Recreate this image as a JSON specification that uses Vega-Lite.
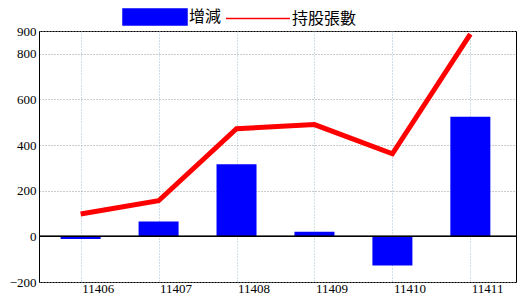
{
  "$schema": "https://vega.github.io/schema/vega-lite/v6.json",
  "width": 477,
  "height": 251,
  "autosize": "none",
  "padding": {"left": 39, "top": 31, "right": 4, "bottom": 18},
  "background": "white",
  "config": {
    "view": {"stroke": "black", "strokeWidth": 1},
    "axis": {"labelFont": "Liberation Sans Narrow", "labelFontSize": 13, "labelColor": "black", "domainColor": "black", "ticks": false}
  },
  "data": {
    "values": [
      {"month": "11406", "change": -12, "holdings": 98},
      {"month": "11407", "change": 65, "holdings": 156},
      {"month": "11408", "change": 316, "holdings": 472},
      {"month": "11409", "change": 20, "holdings": 490},
      {"month": "11410", "change": -128, "holdings": 362},
      {"month": "11411", "change": 524, "holdings": 886}
    ]
  },
  "encoding": {
    "x": {
      "field": "month", "type": "ordinal",
      "scale": {"type": "point", "padding": 0.56, "align": 0.477},
      "axis": {"title": null, "labelAngle": 0, "labelAlign": "left", "labelBaseline": "top", "labelOffset": 1, "labelPadding": 0, "grid": true, "gridColor": "#9fbfcf", "gridDash": [1, 2], "domain": false}
    }
  },
  "layer": [
    {
      "mark": {"type": "bar", "size": 40},
      "encoding": {
        "y": {
          "field": "change", "type": "quantitative",
          "scale": {"domain": [-200, 900], "nice": false, "zero": false},
          "axis": {"title": null, "values": [-200, 0, 200, 400, 600, 800, 900], "grid": true, "gridColor": "#999999", "gridDash": [1, 2], "labelPadding": 3}
        },
        "color": {
          "datum": "增減",
          "scale": {"domain": ["增減", "持股張數"], "range": ["#0000ff", "#ff0000"]},
          "legend": {
            "title": null,
            "orient": "none",
            "legendX": 83,
            "legendY": -47,
            "direction": "horizontal",
            "padding": 0,
            "labelFont": "Noto Sans CJK TC",
            "labelFontSize": 16,
            "labelColor": "black",
            "labelOffset": 1,
            "columnPadding": 1,
            "symbolSize": 4096,
            "encode": {
              "symbols": {
                "update": {
                  "shape": {"signal": "datum.value === '增減' ? 'M-1,-0.25H1V0.25H-1Z' : 'stroke'"},
                  "fill": {"signal": "datum.value === '增減' ? '#0000ff' : 'transparent'"},
                  "stroke": {"signal": "datum.value === '增減' ? 'transparent' : '#ff0000'"},
                  "strokeWidth": {"value": 1.5},
                  "size": {"value": 4096},
                  "opacity": {"value": 1}
                }
              }
            }
          }
        }
      }
    },
    {
      "mark": {"type": "rule", "color": "black", "strokeWidth": 1},
      "encoding": {"y": {"datum": 0, "type": "quantitative"}, "x": {"value": 0}, "x2": {"value": 477}}
    },
    {
      "mark": {"type": "line", "strokeWidth": 5},
      "encoding": {
        "y": {"field": "holdings", "type": "quantitative"},
        "color": {"datum": "持股張數"}
      }
    }
  ]
}
